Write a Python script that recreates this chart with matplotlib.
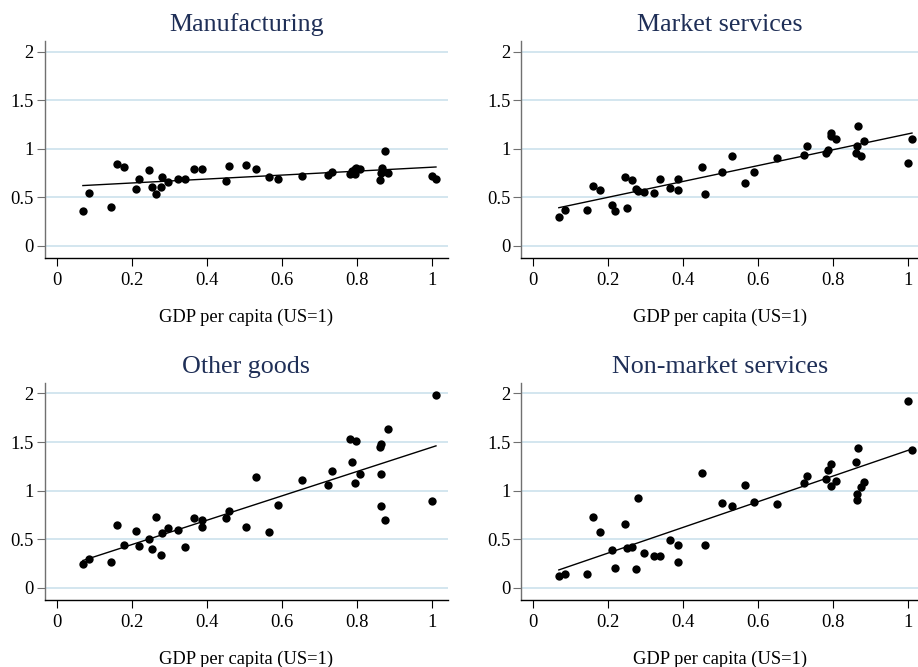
import matplotlib
matplotlib.use("Agg")
import matplotlib.pyplot as plt
import numpy as np

plt.rcParams['font.family'] = ['Liberation Serif', 'DejaVu Serif']

# data (x = GDP per capita, US=1)
manuf_x = [0.070, 0.086, 0.144, 0.162, 0.179, 0.212, 0.219, 0.246, 0.253, 0.265,
           0.277, 0.282, 0.296, 0.324, 0.341, 0.365, 0.388, 0.452, 0.460, 0.504,
           0.532, 0.566, 0.590, 0.653, 0.723, 0.733, 0.782, 0.788, 0.795, 0.797,
           0.796, 0.809, 0.862, 0.865, 0.866, 0.876, 0.883, 1.000, 1.011]
manuf_y = [0.36, 0.55, 0.40, 0.845, 0.81, 0.59, 0.69, 0.78, 0.61, 0.54,
           0.61, 0.71, 0.66, 0.69, 0.69, 0.79, 0.79, 0.67, 0.82, 0.83,
           0.79, 0.71, 0.69, 0.72, 0.735, 0.76, 0.74, 0.77, 0.79, 0.80,
           0.745, 0.79, 0.68, 0.75, 0.80, 0.98, 0.755, 0.725, 0.687]

mkt_x = [0.069, 0.085, 0.143, 0.161, 0.179, 0.210, 0.218, 0.245, 0.252, 0.264,
         0.276, 0.281, 0.295, 0.324, 0.340, 0.365, 0.387, 0.388, 0.451, 0.460,
         0.503, 0.532, 0.565, 0.589, 0.652, 0.722, 0.732, 0.782, 0.788, 0.796,
         0.796, 0.809, 0.862, 0.865, 0.866, 0.876, 0.883, 1.000, 1.011]
mkt_y = [0.30, 0.375, 0.37, 0.62, 0.58, 0.42, 0.365, 0.71, 0.39, 0.68,
         0.59, 0.57, 0.56, 0.55, 0.69, 0.60, 0.58, 0.69, 0.81, 0.54,
         0.76, 0.93, 0.65, 0.76, 0.91, 0.935, 1.03, 0.96, 0.99, 1.165,
         1.13, 1.10, 0.96, 1.03, 1.24, 0.925, 1.085, 0.85, 1.10]

oth_x = [0.070, 0.086, 0.144, 0.162, 0.179, 0.212, 0.219, 0.246, 0.253, 0.265,
         0.277, 0.282, 0.296, 0.324, 0.341, 0.365, 0.388, 0.388, 0.452, 0.460,
         0.504, 0.532, 0.566, 0.590, 0.653, 0.723, 0.733, 0.782, 0.788, 0.797,
         0.796, 0.809, 0.862, 0.865, 0.865, 0.865, 0.876, 0.883, 1.000, 1.011]
oth_y = [0.247, 0.30, 0.27, 0.65, 0.44, 0.585, 0.43, 0.50, 0.405, 0.73,
         0.34, 0.57, 0.62, 0.595, 0.42, 0.72, 0.70, 0.63, 0.715, 0.79,
         0.63, 1.14, 0.58, 0.85, 1.11, 1.055, 1.20, 1.535, 1.30, 1.51,
         1.08, 1.175, 1.45, 1.48, 1.175, 0.84, 0.70, 1.635, 0.89, 1.985]

nonmkt_x = [0.069, 0.085, 0.143, 0.161, 0.179, 0.210, 0.218, 0.245, 0.252, 0.264,
            0.276, 0.281, 0.295, 0.324, 0.340, 0.365, 0.387, 0.388, 0.451, 0.460,
            0.503, 0.532, 0.565, 0.589, 0.652, 0.722, 0.732, 0.782, 0.788, 0.796,
            0.796, 0.809, 0.862, 0.865, 0.865, 0.866, 0.876, 0.883, 1.000, 1.011]
nonmkt_y = [0.12, 0.14, 0.145, 0.73, 0.58, 0.39, 0.21, 0.655, 0.41, 0.42,
            0.20, 0.93, 0.36, 0.33, 0.33, 0.49, 0.27, 0.44, 1.185, 0.443,
            0.87, 0.84, 1.055, 0.885, 0.86, 1.075, 1.15, 1.117, 1.213, 1.278,
            1.05, 1.10, 1.29, 0.965, 0.907, 1.443, 1.034, 1.09, 1.92, 1.423]

titles = ["Manufacturing", "Market services", "Other goods", "Non-market services"]
xs = [manuf_x, mkt_x, oth_x, nonmkt_x]
ys = [manuf_y, mkt_y, oth_y, nonmkt_y]

xticks = [0, 0.2, 0.4, 0.6, 0.8, 1]
xtick_labels = ["0", "0.2", "0.4", "0.6", "0.8", "1"]
yticks = [0, 0.5, 1, 1.5, 2]
ytick_labels = ["0", "0.5", "1", "1.5", "2"]

fig = plt.figure(figsize=(9.18, 6.67), dpi=100)
positions = [
    [0.049, 0.6132, 0.439, 0.3253],
    [0.5679, 0.6132, 0.4321, 0.3253],
    [0.049, 0.1004, 0.439, 0.3258],
    [0.5679, 0.1004, 0.4321, 0.3258],
]
xmax = [1.043, 1.027, 1.043, 1.027]

for i in range(4):
    ax = fig.add_axes(positions[i])
    x = np.array(xs[i])
    y = np.array(ys[i])
    for yt in yticks:
        ax.axhline(yt, color='#d3e6ef', lw=1.4, zorder=0)
    # linear fit line, like the reference
    b, a = np.polyfit(x, y, 1)
    xl = np.array([x.min(), x.max()])
    ax.plot(xl, a + b * xl, color='black', lw=1.0, zorder=2)
    ax.plot(x, y, 'o', color='black', ms=6.0, mec='none', zorder=3)

    ax.set_xlim(-0.031, xmax[i])
    ax.set_ylim(-0.124, 2.11)
    ax.set_xticks(xticks)
    ax.set_xticklabels(xtick_labels)
    ax.set_yticks(yticks)
    ax.set_yticklabels(ytick_labels)
    ax.tick_params(axis='both', direction='out', length=6, width=0.8, labelsize=13.3)
    ax.tick_params(axis='x', pad=4)
    ax.tick_params(axis='y', pad=2, color='#707070')
    for s in ['top', 'right']:
        ax.spines[s].set_visible(False)
    ax.spines['left'].set_color('#707070')
    ax.spines['left'].set_linewidth(1.0)
    ax.spines['bottom'].set_color('black')
    ax.spines['bottom'].set_linewidth(1.0)
    ax.set_title(titles[i], fontsize=18.7, color='#1f2f57', pad=7)
    ax.set_xlabel("GDP per capita (US=1)", fontsize=13.3, labelpad=14.5)

plt.savefig("out.png", dpi=100)
